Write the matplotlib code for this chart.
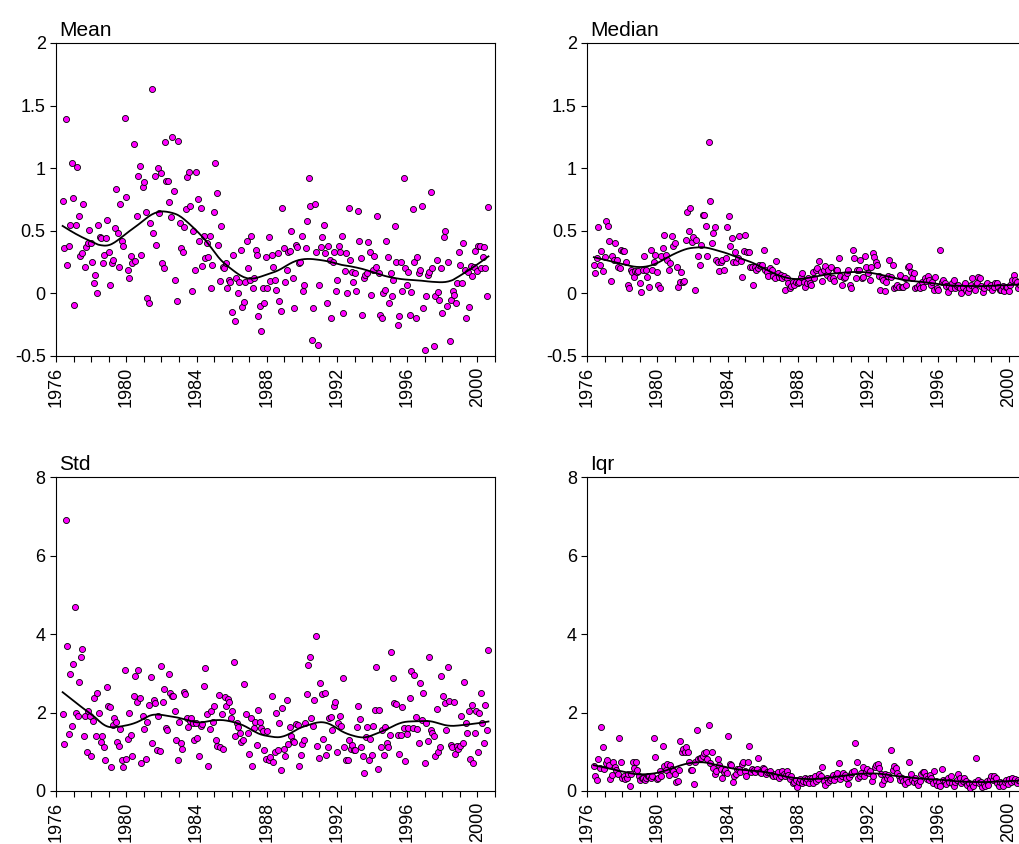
import numpy as np
import matplotlib
matplotlib.use("Agg")
import matplotlib.pyplot as plt

"""
Monthly summary statistics 1976-2000 with a lowess trend, four panels
"""

# monthly values, May 1976 .. Aug 2000
mean_values = [
    0.74, 0.36, 1.39, 0.23, 0.38, 0.55, 1.04, 0.76, -0.09, 0.55, 1.01, 0.62,
    0.30, 0.32, 0.71, 0.21, 0.37, 0.40, 0.51, 0.40, 0.25, 0.08, 0.15, 0.00,
    0.55, 0.45, 0.44, 0.24, 0.31, 0.44, 0.59, 0.33, 0.07, 0.24, 0.27, 0.52,
    0.83, 0.48, 0.21, 0.71, 0.42, 0.38, 1.40, 0.77, 0.19, 0.12, 0.30, 0.24,
    1.19, 0.26, 0.62, 0.94, 1.02, 0.31, 0.85, 0.89, 0.65, -0.04, -0.08, 0.56,
    1.63, 0.48, 0.94, 0.39, 1.00, 0.64, 0.96, 0.24, 0.20, 1.21, 0.90, 0.90,
    0.73, 0.61, 1.25, 0.82, 0.11, -0.06, 1.22, 0.56, 0.36, 0.33, 0.53, 0.67,
    0.93, 0.97, 0.70, 0.02, 0.50, 0.19, 0.97, 0.75, 0.42, 0.68, 0.22, 0.46,
    0.28, 0.40, 0.29, 0.46, 0.04, 0.23, 0.65, 1.04, 0.80, 0.39, 0.10, 0.54,
    0.21, 0.20, 0.24, 0.04, 0.11, 0.09, -0.15, 0.31, -0.22, 0.12, 0.00, 0.09,
    0.35, -0.11, -0.07, 0.09, 0.42, 0.20, 0.11, 0.46, 0.04, 0.12, 0.35, 0.31,
    -0.18, -0.10, -0.30, 0.04, -0.08, 0.29, 0.04, 0.45, 0.10, 0.31, 0.21, 0.11,
    0.03, 0.32, -0.06, -0.14, 0.68, 0.36, 0.09, 0.19, 0.33, 0.34, 0.50, 0.12,
    -0.12, 0.39, 0.37, 0.24, 0.25, 0.46, 0.02, 0.07, 0.36, 0.58, 0.92, 0.70,
    -0.37, -0.12, 0.71, 0.33, -0.41, 0.07, 0.37, 0.45, 0.55, 0.32, -0.08, 0.38,
    0.27, -0.20, 0.25, 0.33, 0.02, 0.11, 0.38, 0.33, 0.46, -0.16, 0.18, 0.32,
    0.00, 0.68, 0.27, 0.17, 0.09, 0.16, 0.02, 0.66, 0.42, 0.28, -0.17, 0.12,
    0.15, 0.16, 0.41, 0.33, -0.01, 0.19, 0.30, 0.21, 0.62, 0.16, -0.17, -0.20,
    0.00, 0.03, 0.42, 0.29, -0.08, 0.16, -0.02, 0.11, 0.54, 0.25, -0.25, -0.18,
    0.25, 0.02, 0.92, 0.20, 0.07, 0.17, -0.17, 0.01, 0.67, 0.25, -0.20, 0.29,
    0.16, 0.19, 0.70, -0.12, -0.45, -0.02, 0.15, 0.17, 0.81, 0.20, -0.42, -0.02,
    0.27, 0.01, -0.05, 0.20, -0.16, 0.45, 0.50, -0.10, 0.25, -0.38, -0.05, 0.02,
    -0.01, -0.08, 0.08, 0.33, 0.23, 0.08, 0.40, 0.19, -0.20, 0.17, -0.11, 0.22,
    0.14, 0.21, 0.34, 0.18, 0.38, 0.38, 0.20, 0.29, 0.37, 0.20, -0.02, 0.69,
]

median_values = [
    0.23, 0.16, 0.28, 0.53, 0.23, 0.34, 0.18, 0.29, 0.58, 0.54, 0.42, 0.10,
    0.30, 0.27, 0.40, 0.27, 0.21, 0.20, 0.35, 0.34, 0.34, 0.25, 0.07, 0.04,
    0.19, 0.17, 0.13, 0.18, 0.17, 0.18, 0.08, 0.01, 0.19, 0.30, 0.19, 0.13,
    0.05, 0.35, 0.19, 0.25, 0.31, 0.17, 0.07, 0.04, 0.30, 0.36, 0.47, 0.31,
    0.27, 0.19, 0.24, 0.46, 0.38, 0.40, 0.21, 0.05, 0.09, 0.17, 0.09, 0.10,
    0.43, 0.65, 0.50, 0.68, 0.41, 0.45, 0.03, 0.43, 0.30, 0.23, 0.39, 0.63,
    0.63, 0.54, 0.30, 1.21, 0.74, 0.40, 0.48, 0.53, 0.27, 0.25, 0.18, 0.25,
    0.27, 0.19, 0.28, 0.53, 0.62, 0.38, 0.44, 0.25, 0.33, 0.25, 0.28, 0.46,
    0.26, 0.13, 0.34, 0.47, 0.33, 0.33, 0.21, 0.21, 0.07, 0.21, 0.19, 0.20,
    0.23, 0.22, 0.23, 0.35, 0.19, 0.17, 0.14, 0.20, 0.19, 0.14, 0.12, 0.26,
    0.16, 0.13, 0.15, 0.12, 0.14, 0.03, 0.12, 0.08, 0.04, 0.06, 0.09, 0.07,
    0.09, 0.08, 0.09, 0.13, 0.16, 0.09, 0.05, 0.08,
    0.12, 0.08, 0.07, 0.17, 0.12, 0.19, 0.20, 0.26, 0.17, 0.10, 0.19, 0.22, 0.15,
    0.19, 0.12, 0.21, 0.12, 0.10, 0.19, 0.19, 0.28, 0.14, 0.07, 0.12, 0.13, 0.16,
    0.19, 0.07, 0.04, 0.35, 0.28, 0.12, 0.19, 0.19, 0.27, 0.12, 0.13, 0.30, 0.21,
    0.16, 0.11, 0.21, 0.32, 0.29, 0.25, 0.23, 0.14, 0.03, 0.12, 0.11, 0.02, 0.09,
    0.14, 0.27, 0.13, 0.23, 0.04, 0.05, 0.07, 0.05, 0.15, 0.05, 0.05, 0.12, 0.07,
    0.21, 0.22, 0.17, 0.12, 0.16, 0.04, 0.05, 0.07, 0.04, 0.09, 0.05, 0.12, 0.10,
    0.14, 0.11, 0.07, 0.09, 0.03, 0.13, 0.04, 0.03, 0.35, 0.09, 0.11, 0.08, 0.06,
    0.01, 0.06, 0.04, 0.08, 0.11, 0.04, 0.06, 0.07, 0.04, 0.00, 0.05, 0.08, 0.03,
    0.01, 0.04, 0.07, 0.12, 0.05, 0.03, 0.08, 0.13, 0.12, 0.06, 0.01, 0.04, 0.07,
    0.08, 0.05, 0.07, 0.03, 0.05, 0.08, 0.08, 0.05, 0.03, 0.03, 0.06, 0.02, 0.05,
    0.05, 0.02, 0.07, 0.11, 0.15, 0.11, 0.09, 0.04, 0.07,
]

std_values = [
    1.96, 1.20, 6.91, 3.71, 1.46, 2.98, 1.66, 3.23, 4.68, 1.98, 1.90, 2.78,
    3.41, 3.62, 1.39, 1.92, 1.00, 2.05, 1.92, 0.90, 1.78, 2.38, 1.41, 2.51,
    2.00, 1.24, 1.41, 1.11, 0.79, 2.64, 2.18, 2.14, 0.62, 1.69, 1.86, 1.75,
    1.26, 1.15, 1.58, 0.79, 0.62, 3.09, 0.81, 1.32, 1.98, 1.43, 0.88, 2.43,
    2.92, 2.28, 3.09, 2.37, 0.72, 1.90, 1.58, 0.81, 1.76, 2.19, 2.90, 1.22,
    2.32, 2.24, 1.05, 1.92, 1.02, 3.19, 2.28, 2.60, 1.60, 1.56, 2.98, 2.51,
    2.41, 2.42, 2.03, 1.30, 0.78, 1.75, 1.22, 1.07, 2.53, 2.47, 1.86, 1.64,
    1.78, 1.86, 1.74, 1.29, 1.73, 1.36, 0.88, 1.67, 1.71, 2.69, 3.14, 1.96,
    0.64, 1.58, 2.05, 1.77, 2.18, 1.30, 1.16, 2.45, 1.13, 1.97, 1.06, 2.39,
    2.17, 2.34, 2.28, 1.87, 2.03, 3.28, 1.41, 1.73, 1.62, 1.47, 1.26, 1.29,
    2.73, 1.97, 1.47, 0.95, 1.86, 0.65, 1.60, 1.77, 1.17, 2.07, 1.76, 1.60,
    1.52, 1.05, 0.81, 1.54, 0.79, 0.86, 2.43, 0.75, 1.00, 1.98, 1.05,
    1.74, 0.54, 2.11, 1.07, 0.88, 2.32, 1.19, 1.62, 1.39, 1.28, 1.26, 1.70,
    1.69, 0.64, 0.92, 1.19, 1.30, 1.74, 2.47, 3.22, 3.41, 1.86, 1.67, 2.32,
    3.96, 1.15, 0.83, 2.75, 2.47, 1.32, 2.51, 0.92, 1.12, 1.86, 1.88, 1.56,
    2.18, 2.28, 1.00, 1.73, 1.90, 1.67, 2.89, 1.13, 0.79, 0.79, 1.30, 1.06,
    1.17, 1.05, 1.05, 1.64, 2.18, 1.83, 1.12, 0.89, 0.47, 1.37, 1.62, 0.79,
    1.32, 0.92, 1.67, 2.07, 3.17, 0.55, 2.07, 1.12, 1.56, 0.92, 1.64, 1.23,
    1.12, 1.43, 3.54, 2.87, 2.24, 2.22, 1.43, 0.95, 1.43, 2.15, 1.60, 0.77,
    1.46, 1.60, 2.38, 3.07, 1.60, 2.96, 1.88, 1.59, 1.23, 2.76, 1.81, 2.49,
    0.71, 1.74, 1.28, 3.41, 1.56, 1.49, 1.41, 0.89, 2.08, 1.00, 1.12, 2.93,
    2.41, 2.24, 1.56, 3.15, 2.30, 1.17, 1.13, 2.28, 0.94, 1.15, 1.06, 1.15,
    1.90, 1.23, 2.79, 1.74, 1.49, 2.03, 0.82, 2.19, 0.72, 1.49, 2.03, 1.00,
    1.98, 2.49, 1.73, 1.22, 2.19, 1.56, 3.60,
]

iqr_values = [
    0.64, 0.37, 0.28, 0.82, 0.58, 1.62, 1.13, 0.56, 0.71, 0.79, 0.66, 0.30,
    0.41, 0.73, 0.62, 0.54, 0.43, 1.36, 0.75, 0.34, 0.39, 0.31, 0.32, 0.43,
    0.14, 0.43, 0.73, 0.58, 0.75, 0.54, 0.37, 0.28, 0.34, 0.34, 0.28, 0.32,
    0.37, 0.39, 0.32, 0.37, 1.36, 0.86, 0.31, 0.32, 0.51, 0.37, 1.16, 0.65,
    0.54, 0.68, 0.41, 0.66, 0.56, 0.51, 0.43, 0.24, 0.26, 0.54, 1.28, 0.99,
    1.07, 0.99, 1.11, 0.99, 0.75, 0.54, 0.54, 0.17, 0.73, 1.56, 0.82, 0.83,
    0.85, 0.88, 0.96, 0.99, 0.82, 1.68, 0.71, 0.99, 0.58, 0.43, 0.51, 0.82,
    0.66, 0.56, 0.32, 0.49, 0.54, 0.45, 1.41, 0.68, 0.66, 0.24, 0.37, 0.43,
    0.56, 0.56, 0.48, 0.68, 0.73, 0.51, 0.37, 0.73, 1.16, 0.49, 0.56, 0.54,
    0.48, 0.56, 0.85, 0.49, 0.45, 0.58, 0.56, 0.43, 0.49, 0.48, 0.51, 0.41,
    0.39, 0.43, 0.37, 0.49, 0.32, 0.39, 0.51, 0.43, 0.37, 0.51, 0.41, 0.31,
    0.37, 0.20, 0.24, 0.28, 0.11, 0.24, 0.31, 0.20, 0.26, 0.34, 0.24, 0.31,
    0.20, 0.32,
    0.32, 0.20, 0.37, 0.26, 0.31, 0.43, 0.37, 0.62, 0.26, 0.15, 0.32, 0.24, 0.29,
    0.34, 0.41, 0.28, 0.37, 0.45, 0.72, 0.31, 0.37, 0.45, 0.41, 0.32, 0.17, 0.35,
    0.43, 0.48, 0.51, 1.22, 0.75, 0.32, 0.39, 0.45, 0.60, 0.39, 0.49, 0.56, 0.47,
    0.51, 0.26, 0.39, 0.62, 0.66, 0.68, 0.58, 0.43, 0.17, 0.28, 0.43, 0.32, 0.40,
    0.31, 1.05, 0.54, 0.65, 0.58, 0.45, 0.37, 0.28, 0.34, 0.26, 0.17, 0.31, 0.22,
    0.73, 0.43, 0.28, 0.24, 0.34, 0.20, 0.15, 0.26, 0.43, 0.48, 0.49, 0.37, 0.30,
    0.28, 0.41, 0.32, 0.20, 0.51, 0.26, 0.15, 0.22, 0.14, 0.56, 0.28, 0.26, 0.19,
    0.32, 0.24, 0.37, 0.20, 0.14, 0.22, 0.28, 0.43, 0.34, 0.20, 0.26, 0.34, 0.25,
    0.15, 0.20, 0.07, 0.17, 0.14, 0.24, 0.83, 0.28, 0.20, 0.24, 0.11, 0.17, 0.12,
    0.26, 0.15, 0.31, 0.37, 0.28, 0.39, 0.32, 0.20, 0.14, 0.24, 0.20, 0.14, 0.23,
    0.28, 0.17, 0.31, 0.24, 0.34, 0.26, 0.31, 0.20, 0.28, 0.26,
]

first_month = 1976 + 4.5 / 12  # May 1976
last_month = 2000 + 7.5 / 12  # Aug 2000

plt.rcParams["font.family"] = ["Liberation Sans", "DejaVu Sans"]


def lowess(x, y, frac=0.17, iters=2):
    # local linear fit with tricube weights, plus bisquare robustness passes
    n = len(x)
    r = int(np.ceil(frac * n))
    fit = np.zeros(n)
    robust = np.ones(n)
    for _ in range(iters + 1):
        for i in range(n):
            d = np.abs(x - x[i])
            h = np.sort(d)[r]
            w = np.clip(1 - (d / h) ** 3, 0, None) ** 3 * robust
            sw = np.sqrt(w)
            A = np.column_stack([np.ones(n), x - x[i]]) * sw[:, None]
            beta = np.linalg.lstsq(A, y * sw, rcond=None)[0]
            fit[i] = beta[0]
        res = y - fit
        s = np.median(np.abs(res))
        robust = np.clip(1 - (res / (6 * s)) ** 2, 0, None) ** 2
    return fit


def draw_panel(ax, values, title, ylim, yticks, ylabels):
    y = np.asarray(values, dtype=float)
    x = np.linspace(first_month, last_month, len(y))

    ax.scatter(x, y, s=19, c="#ff00ff", edgecolors="black", linewidths=0.6, zorder=2)
    ax.plot(x, lowess(x, y), color="black", lw=1.3, zorder=3)

    ax.set_xlim(1976, 2001)
    ax.set_ylim(*ylim)
    years = list(range(1976, 2002))
    ax.set_xticks(years)
    ax.set_xticklabels([str(v) if v % 4 == 0 else "" for v in years], rotation=90)
    ax.set_yticks(yticks)
    ax.set_yticklabels(ylabels)
    ax.tick_params(direction="out", length=4.5, width=0.8, labelsize=13, pad=3)

    for side in ax.spines.values():
        side.set_linewidth(0.8)
        side.set_color("black")

    ax.annotate(title, xy=(0, 1), xycoords="axes fraction", xytext=(3, 7),
                textcoords="offset pixels", ha="left", va="baseline", fontsize=15)


fig = plt.figure(figsize=(10.19, 8.44), dpi=100)

mean_ticks = [-0.5, 0, 0.5, 1, 1.5, 2]
mean_labels = ["-0.5", "0", "0.5", "1", "1.5", "2"]
std_ticks = [0, 2, 4, 6, 8]
std_labels = ["0", "2", "4", "6", "8"]

ax1 = fig.add_axes([0.0550, 0.5782, 0.4308, 0.3709])
draw_panel(ax1, mean_values, "Mean", (-0.5, 2), mean_ticks, mean_labels)

ax2 = fig.add_axes([0.5763, 0.5782, 0.4308, 0.3709])
draw_panel(ax2, median_values, "Median", (-0.5, 2), mean_ticks, mean_labels)

ax3 = fig.add_axes([0.0550, 0.0628, 0.4308, 0.3717])
draw_panel(ax3, std_values, "Std", (0, 8), std_ticks, std_labels)

ax4 = fig.add_axes([0.5763, 0.0628, 0.4308, 0.3717])
draw_panel(ax4, iqr_values, "Iqr", (0, 8), std_ticks, std_labels)

fig.savefig("out.png", dpi=100)
